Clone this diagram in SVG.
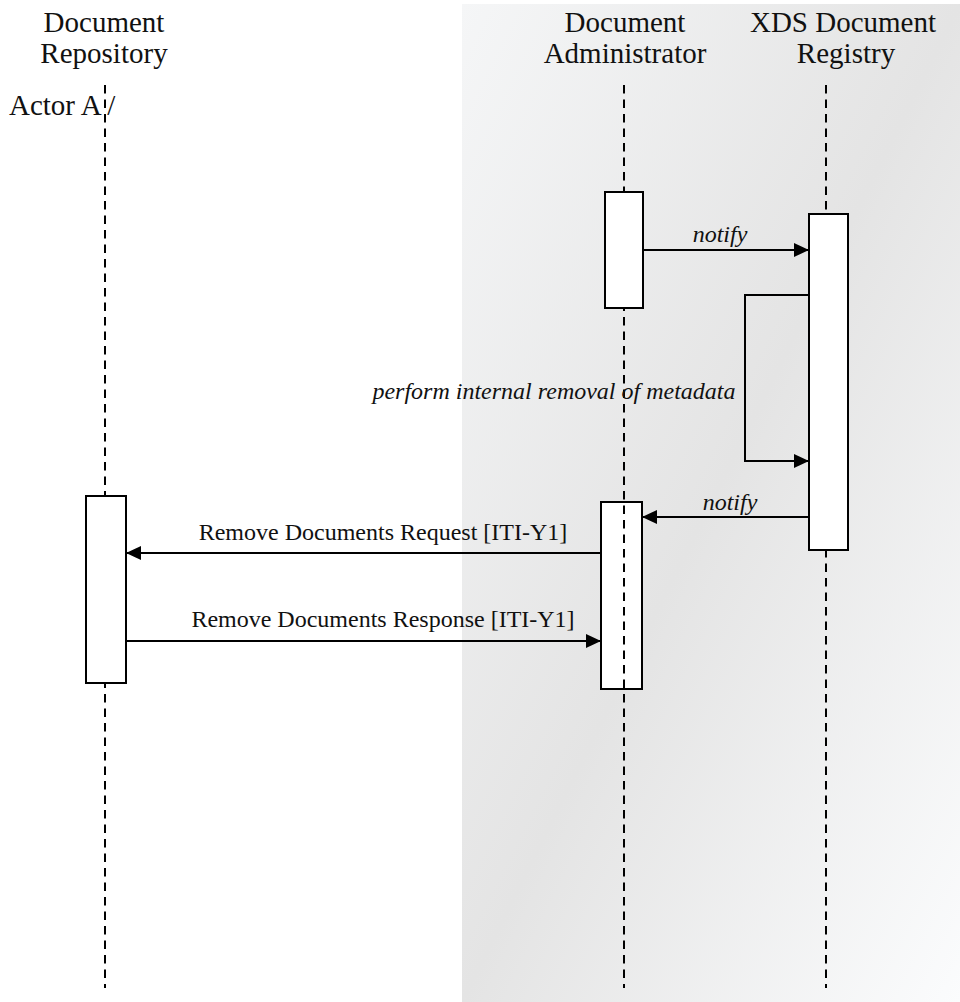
<svg xmlns="http://www.w3.org/2000/svg" width="960" height="1002" viewBox="0 0 960 1002">
<style>
.hdr{font-size:29px;fill:#111;text-anchor:middle}
.lbl{font-size:24px;fill:#111;text-anchor:middle}
.it{font-style:italic}
.life{stroke:#000;stroke-width:2;stroke-dasharray:8.5,6;fill:none}
.act{fill:#fff;stroke:#000;stroke-width:2}
.msg{stroke:#000;stroke-width:2;fill:none}
</style>
<defs>
<linearGradient id="bg" x1="0" y1="0" x2="1" y2="1">
<stop offset="0" stop-color="#f5f6f7"/>
<stop offset="0.5" stop-color="#e4e4e4"/>
<stop offset="1" stop-color="#fbfcfd"/>
</linearGradient>
<marker id="ah" viewBox="0 0 15 14" refX="15" refY="7" markerWidth="15" markerHeight="14" markerUnits="userSpaceOnUse" orient="auto">
<path d="M0,0 L15,7 L0,14 Z" fill="#000"/>
</marker>
</defs>
<rect x="462" y="4" width="498" height="998" fill="url(#bg)"/>

<g id="repository">
<text class="hdr" font-family="Liberation Serif" x="104" y="32">Document</text>
<text class="hdr" font-family="Liberation Serif" x="104" y="63">Repository</text>
<text font-family="Liberation Serif" font-size="29" fill="#111" x="9" y="115">Actor A /</text>
</g>
<g id="administrator">
<text class="hdr" font-family="Liberation Serif" x="625" y="32">Document</text>
<text class="hdr" font-family="Liberation Serif" x="625" y="63">Administrator</text>
</g>
<g id="registry">
<text class="hdr" font-family="Liberation Serif" x="843" y="32">XDS Document</text>
<text class="hdr" font-family="Liberation Serif" x="846" y="63">Registry</text>
</g>

<g id="admin-activation-2">
<rect class="act" x="601" y="502" width="41" height="187"/>
</g>

<g id="lifelines">
<line class="life" x1="105" y1="85" x2="105" y2="988"/>
<line class="life" x1="624" y1="85" x2="624" y2="988"/>
<line class="life" x1="826" y1="85" x2="826" y2="988"/>
</g>

<g id="admin-activation-1">
<rect class="act" x="605" y="192" width="38" height="116"/>
</g>
<g id="registry-activation">
<rect class="act" x="809" y="214" width="39" height="336"/>
</g>
<g id="repository-activation">
<rect class="act" x="86" y="496" width="40" height="187"/>
</g>

<g id="connectors">
<line class="msg" x1="643" y1="250" x2="809" y2="250" marker-end="url(#ah)"/>
<polyline class="msg" points="809,295 745,295 745,461 809,461" marker-end="url(#ah)"/>
<line class="msg" x1="809" y1="517" x2="642" y2="517" marker-end="url(#ah)"/>
<line class="msg" x1="601" y1="553" x2="126" y2="553" marker-end="url(#ah)"/>
<line class="msg" x1="126" y1="641" x2="601" y2="641" marker-end="url(#ah)"/>
</g>

<g id="labels">
<text class="lbl it" font-family="Liberation Serif" x="720" y="242">notify</text>
<text class="lbl it" font-family="Liberation Serif" x="554" y="399">perform internal removal of metadata</text>
<text class="lbl it" font-family="Liberation Serif" x="730" y="510">notify</text>
<text class="lbl" font-family="Liberation Serif" x="383" y="540">Remove Documents Request [ITI-Y1]</text>
<text class="lbl" font-family="Liberation Serif" x="383" y="627">Remove Documents Response [ITI-Y1]</text>
</g>
</svg>
